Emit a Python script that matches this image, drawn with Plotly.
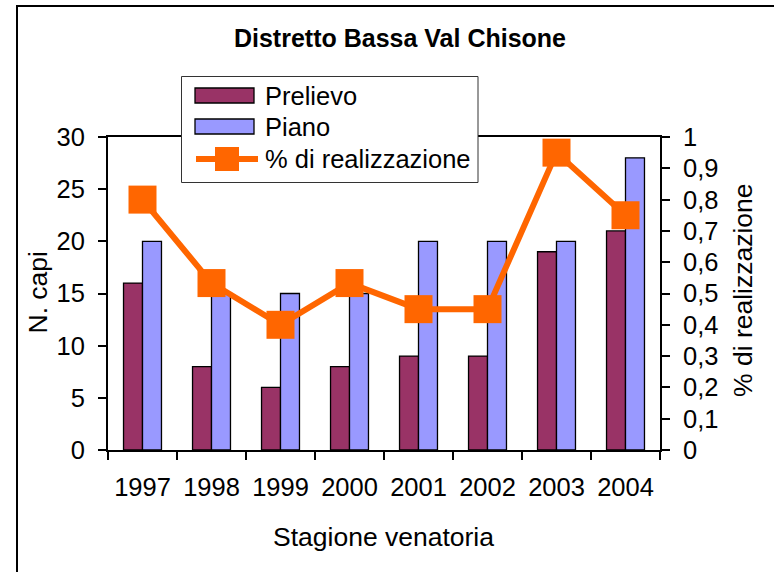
import plotly.graph_objects as go

# Hunting seasons and harvest figures
stagioni = ["1997", "1998", "1999", "2000", "2001", "2002", "2003", "2004"]
prelievo = [16, 8, 6, 8, 9, 9, 19, 21]
piano = [20, 15, 15, 15, 20, 20, 20, 28]
realizzazione = [p / q for p, q in zip(prelievo, piano)]

COL_PRELIEVO = "#993366"
COL_PIANO = "#9999FF"
COL_REAL = "#FF6600"
FONT = "Arial, Liberation Sans, sans-serif"
FS = 25.5
FS_TITLE = 26.5

W, H = 774, 572
ML, MR, MT, MB = 108, 114, 137, 122
PW, PH = W - ML - MR, H - MT - MB


def px(x):
    return (x - ML) / PW


def py(y):
    return (H - MB - y) / PH


fig = go.Figure()
fig.add_trace(go.Bar(x=stagioni, y=prelievo, name="Prelievo",
                     marker=dict(color=COL_PRELIEVO, line=dict(color="black", width=1.3)),
                     showlegend=False))
fig.add_trace(go.Bar(x=stagioni, y=piano, name="Piano",
                     marker=dict(color=COL_PIANO, line=dict(color="black", width=1.3)),
                     showlegend=False))
fig.add_trace(go.Scatter(x=stagioni, y=realizzazione, name="% di realizzazione",
                         yaxis="y2", mode="lines+markers",
                         line=dict(color=COL_REAL, width=6),
                         marker=dict(symbol="square", size=28, color=COL_REAL),
                         showlegend=False))

tick_common = dict(ticklen=8, tickwidth=1.5, tickcolor="black", showgrid=False, zeroline=False)

fig.update_layout(
    width=W, height=H,
    margin=dict(l=ML, r=MR, t=MT, b=MB),
    paper_bgcolor="white", plot_bgcolor="white",
    font=dict(family=FONT, size=FS, color="black"),
    separators=", ",
    barmode="group", bargap=0.45, bargroupgap=0,
    showlegend=False,
    title=dict(text="<b>Distretto Bassa Val Chisone</b>", x=px(400), xref="paper",
               xanchor="center", y=1 - 38 / H, yref="container", yanchor="middle",
               font=dict(family=FONT, size=25, color="black")),
    xaxis=dict(type="category", categoryorder="array", categoryarray=stagioni,
               range=[-0.5, 7.5], tickson="boundaries", ticks="outside", showline=True,
               linecolor="black", linewidth=2, mirror=True, ticklabelstandoff=13,
               **tick_common),
    yaxis=dict(range=[0, 30], dtick=5, ticks="outside", showline=True, linecolor="black",
               linewidth=2, ticklabelstandoff=8, **tick_common),
    yaxis2=dict(range=[0, 1], dtick=0.1, overlaying="y", side="right", ticks="outside",
                showline=True, linecolor="black", linewidth=2, ticklabelstandoff=8,
                **tick_common),
    # inner halves of the tick marks, so ticks cross the axis lines
    xaxis2=dict(range=[-0.5, 7.5], tick0=-0.5, dtick=1, ticks="inside", overlaying="x",
                anchor="y", side="bottom", showticklabels=False, showline=False, **tick_common),
    yaxis3=dict(range=[0, 30], dtick=5, ticks="inside", overlaying="y", anchor="x",
                side="left", showticklabels=False, showline=False, **tick_common),
    yaxis4=dict(range=[0, 1], dtick=0.1, ticks="inside", overlaying="y", anchor="x",
                side="right", showticklabels=False, showline=False, **tick_common),
)

# outer frame of the chart
shapes = [dict(type="rect", xref="paper", yref="paper", x0=px(17), x1=px(800),
               y0=py(600), y1=py(6), line=dict(color="black", width=2))]

# axis titles
annotations = [
    dict(text="N. capi", xref="paper", yref="paper", x=px(37.5), y=py(293),
         textangle=-90, xanchor="center", yanchor="middle", showarrow=False,
         font=dict(family=FONT, size=FS_TITLE, color="black")),
    dict(text="% di realizzazione", xref="paper", yref="paper", x=px(743), y=py(290),
         textangle=-90, xanchor="center", yanchor="middle", showarrow=False,
         font=dict(family=FONT, size=FS_TITLE, color="black")),
    dict(text="Stagione venatoria", xref="paper", yref="paper", x=px(383), y=py(537),
         xanchor="center", yanchor="middle", showarrow=False,
         font=dict(family=FONT, size=FS_TITLE, color="black")),
]

# legend box with swatches
shapes.append(dict(type="rect", xref="paper", yref="paper", x0=px(181.5), x1=px(478),
                   y0=py(182.5), y1=py(76.5), fillcolor="white",
                   line=dict(color="#333333", width=1)))
rows = [("Prelievo", COL_PRELIEVO, "bar", 95.5),
        ("Piano", COL_PIANO, "bar", 126.5),
        ("% di realizzazione", COL_REAL, "line", 159)]
for label, col, kind, yc in rows:
    if kind == "bar":
        shapes.append(dict(type="rect", xref="paper", yref="paper", x0=px(195), x1=px(254),
                           y0=py(yc + 7.5), y1=py(yc - 7.5), fillcolor=col,
                           line=dict(color="black", width=1.3)))
    else:
        shapes.append(dict(type="line", xref="paper", yref="paper", x0=px(196), x1=px(258),
                           y0=py(yc), y1=py(yc), line=dict(color=col, width=6)))
        shapes.append(dict(type="rect", xref="paper", yref="paper", x0=px(215), x1=px(239),
                           y0=py(yc + 12), y1=py(yc - 12), fillcolor=col,
                           line=dict(width=0)))
    annotations.append(dict(text=label, xref="paper", yref="paper", x=px(263), y=py(yc),
                            xanchor="left", yanchor="middle", showarrow=False,
                            font=dict(family=FONT, size=FS, color="black")))

fig.update_layout(shapes=shapes, annotations=annotations)

fig.write_html("out.html")
